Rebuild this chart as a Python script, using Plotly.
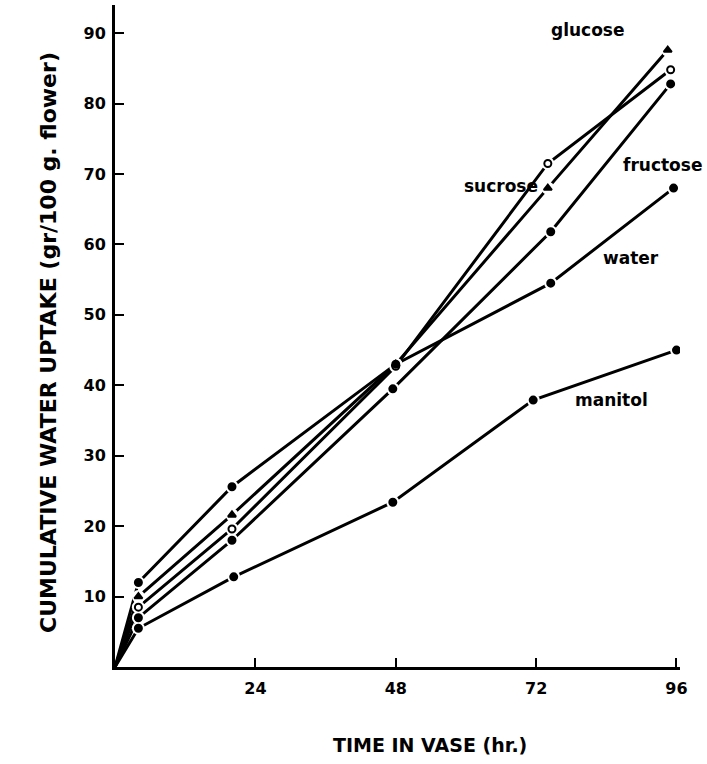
import plotly.graph_objects as go

# ---- data ----
SERIES = ["glucose", "sucrose", "fructose", "water", "manitol"]
glucose_t = [0, 4, 20, 48, 74, 94.5]
glucose_v = [0, 10.0, 21.6, 43.0, 68.0, 87.6]
sucrose_t = [0, 4, 20, 48, 74, 95]
sucrose_v = [0, 8.5, 19.6, 42.7, 71.5, 84.8]
fructose_t = [0, 4, 20, 47.5, 74.5, 95]
fructose_v = [0, 7.0, 18.0, 39.5, 61.8, 82.8]
water_t = [0, 4, 20, 48, 74.5, 95.5]
water_v = [0, 12.0, 25.6, 43.0, 54.5, 68.0]
manitol_t = [0, 4, 20.3, 47.5, 71.5, 96]
manitol_v = [0, 5.5, 12.8, 23.4, 37.9, 45.0]

x_ticks = [24, 48, 72, 96]
y_ticks = [10, 20, 30, 40, 50, 60, 70, 80, 90]

# label positions (data units)
label_pos = {
    "glucose": (80.8, 90.4, "center"),
    "sucrose": (72.6, 68.3, "right"),
    "fructose": (93.6, 71.3, "center"),
    "water": (88.3, 58.1, "center"),
    "manitol": (84.9, 37.9, "center"),
}

data = {
    "glucose": (glucose_t, glucose_v, "triangle-up"),
    "sucrose": (sucrose_t, sucrose_v, "circle-open"),
    "fructose": (fructose_t, fructose_v, "circle"),
    "water": (water_t, water_v, "circle"),
    "manitol": (manitol_t, manitol_v, "circle"),
}

fig = go.Figure()
# lines
for name in SERIES:
    t, v, sym = data[name]
    fig.add_trace(go.Scatter(x=t, y=v, mode="lines",
                             line=dict(color="black", width=3),
                             showlegend=False, hoverinfo="skip"))
# white halo to break lines near markers
for name in SERIES:
    t, v, sym = data[name]
    fig.add_trace(go.Scatter(x=t[1:], y=v[1:], mode="markers",
                             marker=dict(symbol="circle", size=13, color="white"),
                             showlegend=False, hoverinfo="skip"))
# markers
for name in SERIES:
    t, v, sym = data[name]
    fig.add_trace(go.Scatter(x=t[1:], y=v[1:], mode="markers", name=name,
                             marker=dict(symbol=sym, size=7, color="black",
                                         line=dict(color="black", width=2)),
                             showlegend=False))

FONT = "DejaVu Sans"
for name in SERIES:
    x, y, anchor = label_pos[name]
    fig.add_annotation(x=x, y=y, text=f"<b>{name}</b>", showarrow=False,
                       xanchor=anchor, yanchor="middle",
                       font=dict(family=FONT, size=17, color="black"))

fig.add_annotation(xref="paper", yref="paper", x=-0.118, y=0.49,
                   xanchor="center", yanchor="middle",
                   text="<b>CUMULATIVE WATER UPTAKE (gr/100 g. flower)</b>",
                   textangle=-90, showarrow=False,
                   font=dict(family=FONT, size=22, color="black"))
fig.add_annotation(xref="paper", yref="paper", x=0.557, y=-0.118,
                   xanchor="center", yanchor="middle",
                   text="<b>TIME IN VASE (hr.)</b>", showarrow=False,
                   font=dict(family=FONT, size=19, color="black"))

fig.update_layout(
    width=707, height=764,
    margin=dict(l=115, r=27, t=5, b=97),
    paper_bgcolor="white", plot_bgcolor="white",
    xaxis=dict(range=[0, 96.6], tickvals=x_ticks,
               ticktext=[f"<b>{t}</b>" for t in x_ticks],
               showgrid=False, zeroline=False, showline=True,
               linecolor="black", linewidth=3,
               ticks="inside", ticklen=9, tickwidth=2, tickcolor="black",
               ticklabelstandoff=5,
               tickfont=dict(family=FONT, size=16, color="black")),
    yaxis=dict(range=[0, 94.0], tickvals=y_ticks,
               ticktext=[f"<b>{t}</b>" for t in y_ticks],
               showgrid=False, zeroline=False, showline=True,
               linecolor="black", linewidth=3,
               ticks="inside", ticklen=9, tickwidth=2, tickcolor="black",
               ticklabelstandoff=3,
               tickfont=dict(family=FONT, size=16, color="black")),
)

fig.write_html("out.html", config={"displayModeBar": False},
               post_script="document.body.style.margin='0px';")
